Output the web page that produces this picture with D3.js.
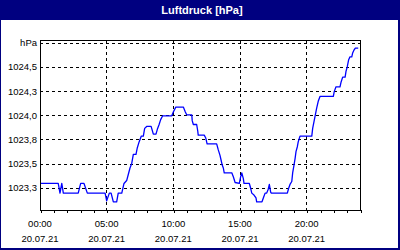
<!DOCTYPE html>
<html>
<head>
<meta charset="utf-8">
<script src="https://cdn.jsdelivr.net/npm/d3@7"></script>
<style>
  html, body { margin: 0; padding: 0; background: #ffffff; }
  svg { display: block; }
</style>
</head>
<body>
<svg id="chart" width="400" height="250"></svg>
<script>
// ---- data ----
const chartTitle = "Luftdruck [hPa]";
const day = "2021-07-20";
const times = [
  "00:00","01:22","01:30","01:38","01:45","02:52","03:03","03:18","03:33","04:53",
  "05:00","05:12","05:20","05:30","05:45","05:52","06:08","06:18","06:30","06:37",
  "06:45","06:53","07:00","07:12","07:18","07:26","07:36","07:45","07:51","08:00",
  "08:20","08:30","08:42","08:48","08:56","09:03","09:12","09:53","10:00","10:11",
  "10:45","10:54","11:00","11:23","11:25","11:30","11:45","11:50","11:52","12:19",
  "12:26","12:32","13:15","13:22","13:30","13:35","13:40","13:45","13:49","14:23",
  "14:30","14:38","14:57","15:03","15:08","15:15","15:18","15:42","15:48","15:53",
  "16:03","16:12","16:15","16:39","16:45","16:53","17:00","17:07","17:12","17:18",
  "17:21","18:33","18:39","18:45","18:53","18:57","19:03","19:08","19:12","19:18",
  "19:22","19:30","20:23","20:27","20:33","20:39","20:45","20:52","21:00","22:00",
  "22:04","22:12","22:30","22:35","22:42","22:53","22:57","23:03","23:09","23:15",
  "23:23","23:27","23:33","23:39","23:52"
];
const pressure = [
  1023.31,1023.31,1023.21,1023.31,1023.21,1023.21,1023.31,1023.31,1023.21,1023.21,
  1023.13,1023.21,1023.21,1023.12,1023.12,1023.21,1023.21,1023.31,1023.34,1023.40,
  1023.47,1023.52,1023.61,1023.61,1023.68,1023.74,1023.80,1023.80,1023.88,1023.90,
  1023.90,1023.82,1023.82,1023.87,1023.92,1023.97,1024.01,1024.01,1024.05,1024.10,
  1024.10,1024.05,1024.02,1024.02,1023.96,1023.92,1023.92,1023.85,1023.81,1023.81,
  1023.78,1023.72,1023.72,1023.66,1023.60,1023.55,1023.50,1023.47,1023.42,1023.42,
  1023.38,1023.32,1023.31,1023.38,1023.42,1023.36,1023.31,1023.31,1023.26,1023.21,
  1023.19,1023.16,1023.12,1023.12,1023.16,1023.21,1023.21,1023.25,1023.30,1023.22,
  1023.21,1023.21,1023.26,1023.30,1023.33,1023.42,1023.50,1023.57,1023.64,1023.69,
  1023.74,1023.80,1023.80,1023.88,1023.95,1024.02,1024.09,1024.16,1024.21,1024.21,
  1024.26,1024.31,1024.31,1024.36,1024.41,1024.41,1024.47,1024.52,1024.59,1024.62,
  1024.62,1024.66,1024.69,1024.71,1024.71
];
const yTickValues = [1023.26, 1023.51, 1023.76, 1024.01, 1024.26, 1024.51, 1024.76];
const yTickLabels = ["1023,3", "1023,5", "1023,8", "1024,0", "1024,3", "1024,5", "hPa"];
const yDomain = [1023.0355, 1024.794];
const xGridHours = ["05:00", "10:00", "15:00", "20:00"];
const xLabelHours = ["00:00", "05:00", "10:00", "15:00", "20:00"];
const xDateLabel = "20.07.21";

// ---- layout ----
const W = 400, H = 250;
const plot = { left: 40, top: 40, right: 360, bottom: 210 };
const navy = "#000080";
const fontFam = "'Liberation Sans', Arial, sans-serif";

const parse = d3.timeParse("%Y-%m-%d %H:%M");
const t0 = parse(day + " 00:00");
const t1 = d3.timeDay.offset(t0, 1);

const x = d3.scaleTime().domain([t0, t1]).range([plot.left, plot.right]);
const y = d3.scaleLinear().domain(yDomain).range([plot.bottom, plot.top]);
const crisp = v => Math.floor(v) + 0.5;

const svg = d3.select("#chart");

// background
svg.append("rect").attr("x", 0).attr("y", 0).attr("width", W).attr("height", H).attr("fill", "#ffffff");

// title bar
svg.append("rect").attr("x", 0).attr("y", 0).attr("width", W).attr("height", 20).attr("fill", navy);
svg.append("text")
  .attr("x", 202).attr("y", 13.5)
  .attr("text-anchor", "middle")
  .attr("fill", "#ffffff")
  .attr("font-family", fontFam)
  .attr("font-weight", "bold")
  .attr("font-size", "11px")
  .text(chartTitle);

// outer border
svg.append("rect").attr("x", 0).attr("y", 20).attr("width", 1).attr("height", H - 20).attr("fill", navy);
svg.append("rect").attr("x", W - 2).attr("y", 20).attr("width", 2).attr("height", H - 20).attr("fill", navy);
svg.append("rect").attr("x", 0).attr("y", H - 2).attr("width", W).attr("height", 2).attr("fill", navy);

// horizontal grid
const g = svg.append("g").attr("shape-rendering", "crispEdges");
g.selectAll("line.hgrid").data(yTickValues).join("line")
  .attr("class", "hgrid")
  .attr("x1", plot.left).attr("x2", plot.right)
  .attr("y1", d => crisp(y(d))).attr("y2", d => crisp(y(d)))
  .attr("stroke", "#000").attr("stroke-width", 1).attr("stroke-dasharray", "3,3");

// vertical grid
g.selectAll("line.vgrid").data(xGridHours).join("line")
  .attr("class", "vgrid")
  .attr("x1", d => crisp(x(parse(day + " " + d)))).attr("x2", d => crisp(x(parse(day + " " + d))))
  .attr("y1", plot.top).attr("y2", plot.bottom)
  .attr("stroke", "#000").attr("stroke-width", 1).attr("stroke-dasharray", "3,3");

// y labels
svg.selectAll("text.ylab").data(yTickValues).join("text")
  .attr("class", "ylab")
  .attr("x", 37).attr("y", d => y(d) + 3)
  .attr("text-anchor", "end")
  .attr("font-family", fontFam).attr("font-size", "9.5px").attr("fill", "#000")
  .text((d, i) => yTickLabels[i]);

// bottom axis with hourly ticks
const xAxis = d3.axisBottom(x)
  .ticks(d3.timeHour.every(1))
  .tickSize(3)
  .tickFormat("");
const ax = svg.append("g")
  .attr("transform", `translate(0,${plot.bottom})`)
  .attr("shape-rendering", "crispEdges")
  .call(xAxis);
ax.select(".domain").remove();
ax.selectAll(".tick line").attr("stroke", "#000").attr("transform", "translate(0.5,0)");

// x labels
const xl = svg.append("g");
xLabelHours.forEach(h => {
  const px = x(parse(day + " " + h));
  xl.append("text").attr("x", px).attr("y", 227)
    .attr("text-anchor", "middle")
    .attr("font-family", fontFam).attr("font-size", "9.5px").attr("fill", "#000")
    .text(h);
  xl.append("text").attr("x", px).attr("y", 242)
    .attr("text-anchor", "middle")
    .attr("font-family", fontFam).attr("font-size", "9.5px").attr("fill", "#000")
    .text(xDateLabel);
});

// data line
const data = times.map((t, i) => ({ t: parse(day + " " + t), v: pressure[i] }));
const line = d3.line().x(d => x(d.t)).y(d => y(d.v));
svg.append("path")
  .datum(data)
  .attr("d", line)
  .attr("fill", "none")
  .attr("stroke", "#0000ff")
  .attr("stroke-width", 1.3)
  .attr("stroke-linejoin", "round");

// plot frame
svg.append("rect")
  .attr("x", plot.left + 0.5).attr("y", plot.top + 0.5)
  .attr("width", plot.right - plot.left).attr("height", plot.bottom - plot.top)
  .attr("fill", "none").attr("stroke", "#000").attr("stroke-width", 1)
  .attr("shape-rendering", "crispEdges");
</script>
</body>
</html>
